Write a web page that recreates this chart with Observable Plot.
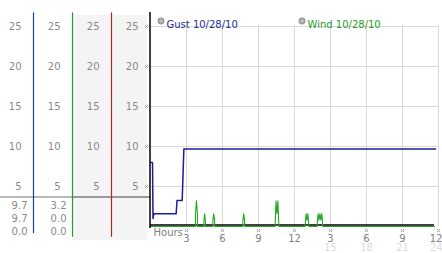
<!DOCTYPE html>
<html><head><meta charset="utf-8">
<script src="https://cdn.jsdelivr.net/npm/d3@7"></script>
<script src="https://cdn.jsdelivr.net/npm/@observablehq/plot@0.6"></script>
<style>
body{margin:0;background:#fff;}
#chart{position:relative;width:442px;height:253px;overflow:hidden;background:#fff;}
#chart svg{position:absolute;left:0;top:0;}
</style></head><body><div id="chart"></div>
<script>
const yTicks = [5, 10, 15, 20, 25];
const panelColumns = [1, 2, 3, 4];
const panelLineColumns = [1, 2, 3];
const panelLineColors = ["#1f3f99", "#2a9a2a", "#aa2a2a"];
const gustStats = ["9.7", "9.7", "0.0"];
const windStats = ["3.2", "0.0", "0.0"];
const gustHours  = [0, 0.17, 0.19, 0.21, 0.28, 2.14, 2.21, 2.64, 2.71, 2.78, 23.75];
const gustValues = [8.0, 8.0, 4.1, 1.0, 1.6, 1.6, 3.25, 3.25, 6.5, 9.7, 9.7];
const windHours  = [0, 3.74, 3.75, 3.83, 3.91, 3.92, 4.44, 4.45, 4.51, 4.57, 4.58, 5.19, 5.20, 5.27, 5.34, 5.35,
  7.69, 7.70, 7.77, 7.84, 7.85, 10.38, 10.46, 10.54, 10.62, 10.70, 12.88, 12.96, 13.04, 13.12, 13.20,
  13.88, 13.96, 14.04, 14.12, 14.20, 14.28, 14.36, 23.67];
const windValues = [0, 0, 1.6, 3.2, 1.6, 0, 0, 0.8, 1.6, 0.8, 0, 0, 0.8, 1.6, 0.8, 0,
  0, 0.8, 1.6, 0.8, 0, 0, 3.2, 1.6, 3.2, 0, 0, 1.6, 0.8, 1.6, 0,
  0, 1.6, 0.8, 1.6, 0.8, 1.6, 0, 0];
const hourTicks = [3, 6, 9, 12, 15, 18, 21, 24];
const hourLabels = ["3", "6", "9", "12", "3", "6", "9", "12"];
const hour24Ticks = [15, 18, 21, 24];
const hour24Labels = ["15", "18", "21", "24"];
const legendLabels = ["Gust 10/28/10", "Wind 10/28/10"];
const legendColors = ["#1f2f8f", "#2a9a2a"];
const seriesColors = ["#1c1c9c", "#22aa22"];

const gust = gustHours.map((h, i) => ({h, v: gustValues[i]}));
const wind = windHours.map((h, i) => ({h, v: windValues[i]}));
const cells = panelColumns.flatMap(c => yTicks.map(v => ({c, v})));
const sep = 3.69;
const style = {fontFamily: "DejaVu Sans", fontSize: "10px", background: "transparent"};

const panel = Plot.plot({
  width: 442, height: 253, style,
  x: {domain: [0, 4], range: [-6, 150], axis: null},
  y: {domain: [0, 25], range: [226, 26], axis: null},
  marks: [
    Plot.rect([0], {x1: 2, x2: 4, y1: -1.75, y2: 26.4, fill: "#f4f4f4", insetLeft: 1, insetRight: 3}),
    Plot.ruleY([sep], {x1: 0, x2: 2, stroke: "#b8b8b8", strokeWidth: 2}),
    Plot.ruleY([sep], {x1: 2, x2: 4, stroke: "#9a9a9a", strokeWidth: 2}),
    Plot.ruleX(panelLineColumns, {x: d => d, y1: (d, i) => i === 0 ? -0.9 : -1.35, y2: 26.7,
      stroke: (d, i) => panelLineColors[i], strokeWidth: 1.2}),
    Plot.text(cells, {x: "c", y: "v", text: d => String(d.v), dx: -12, textAnchor: "end", fill: "#8a8a8a"}),
    ...gustStats.map((s, k) => Plot.text([s], {x: 1, y: sep, dy: 8.5 + 13.3 * k, dx: -6, text: d => d, textAnchor: "end", fill: "#8a8a8a"})),
    ...windStats.map((s, k) => Plot.text([s], {x: 2, y: sep, dy: 8.5 + 13.3 * k, dx: -6, text: d => d, textAnchor: "end", fill: "#8a8a8a"}))
  ]
});

const last = hourTicks.length - 1;
const last24 = hour24Ticks.length - 1;
const main = Plot.plot({
  width: 442, height: 253, style,
  marginLeft: 150, marginRight: 4, marginTop: 26, marginBottom: 27,
  x: {domain: [0, 24], axis: null},
  y: {domain: [0, 25], axis: null},
  marks: [
    Plot.ruleX(hourTicks, {x: d => d, y1: 0, y2: 25.15, stroke: "#dadada"}),
    Plot.ruleY(yTicks, {y: d => d, x1: 0, x2: 24, stroke: "#dadada"}),
    Plot.ruleY([0], {x1: 0, x2: 23.67, dy: -1.5, stroke: "black", strokeWidth: 1.6}),
    Plot.line(wind, {x: "h", y: "v", stroke: seriesColors[1], strokeWidth: 1.1}),
    Plot.line(gust, {x: "h", y: "v", stroke: seriesColors[0], strokeWidth: 1.5}),
    Plot.ruleX([0], {x: d => d, y1: -0.25, y2: 26.75, dx: -0.5, stroke: "black", strokeWidth: 1.5}),
    Plot.dot(yTicks, {x: 0, y: d => d, dx: -4, symbol: "times", r: 1.6, stroke: "#a0a0a0", strokeWidth: 1}),
    Plot.dot(hourTicks, {x: d => d, y: 0, dy: 4, symbol: "times", r: 1.6, stroke: "#a0a0a0", strokeWidth: 1}),
    Plot.text(hourTicks.slice(0, last), {x: d => d, y: 0, dy: 12.5, text: (d, i) => hourLabels[i], fill: "#808080"}),
    Plot.text([hourTicks[last]], {x: d => d, y: 0, dy: 12.5, dx: -2.5, text: () => hourLabels[last], fill: "#808080"}),
    Plot.text(hour24Ticks.slice(0, last24), {x: d => d, y: 0, dy: 21, text: (d, i) => hour24Labels[i], fill: "#dcdcdc"}),
    Plot.text([hour24Ticks[last24]], {x: d => d, y: 0, dy: 21, dx: -2.5, text: () => hour24Labels[last24], fill: "#dcdcdc"}),
    Plot.text(["Hours"], {x: 0, y: 0, dx: 3, dy: 6, text: d => d, textAnchor: "start", fill: "#808080"}),
    Plot.dot([0], {frameAnchor: "top-left", dx: 10.5, dy: -5.5, r: 2.7, fill: "#bbbbbb", stroke: "#999999"}),
    Plot.text([legendLabels[0]], {frameAnchor: "top-left", dx: 16, dy: -5.5, text: d => d, textAnchor: "start", fill: legendColors[0]}),
    Plot.dot([0], {frameAnchor: "top-left", dx: 151.5, dy: -5.5, r: 2.7, fill: "#bbbbbb", stroke: "#999999"}),
    Plot.text([legendLabels[1]], {frameAnchor: "top-left", dx: 157, dy: -5.5, text: d => d, textAnchor: "start", fill: legendColors[1]})
  ]
});

const chart = document.getElementById("chart");
chart.appendChild(panel);
chart.appendChild(main);
</script>
</body></html>
